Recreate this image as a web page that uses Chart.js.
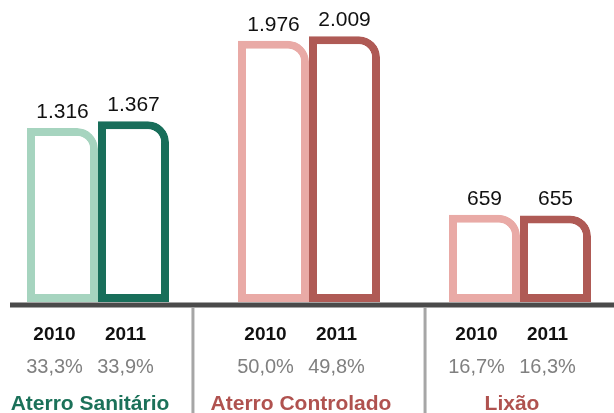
<!DOCTYPE html>
<html>
<head>
<meta charset="utf-8">
<script src="https://cdn.jsdelivr.net/npm/chart.js@4/dist/chart.umd.min.js"></script>
<style>
  html, body { margin: 0; padding: 0; background: #fff; }
  #wrap { width: 614px; height: 413px; }
</style>
</head>
<body>
<div id="wrap"><canvas id="chart" width="614" height="413"></canvas></div>
<script>
const categories = ['Aterro Sanitário', 'Aterro Controlado', 'Lixão'];
const years = ['2010', '2011'];
const values2010 = [1316, 1976, 659];
const values2011 = [1367, 2009, 655];
const share2010 = ['33,3%', '50,0%', '16,7%'];
const share2011 = ['33,9%', '49,8%', '16,3%'];

const lightColors = ['#a6d4bf', '#e9aaa6', '#e9aaa6'];
const darkColors = ['#186e5a', '#af5a55', '#af5a55'];
const nameColors = ['#1b7159', '#b0524f', '#b0524f'];

const FONT = '"Liberation Sans", Arial, sans-serif';

function formatNum(n) {
    // separador de milhar com ponto
    return String(n).replace(/\B(?=(\d{3})+(?!\d))/g, '.');
}

const labelsPlugin = {
    id: 'labels',
    afterDatasetsDraw(chart) {
        const ctx = chart.ctx;
        const area = chart.chartArea;
        const x = chart.scales.x;
        ctx.save();

        // linha base
        ctx.fillStyle = '#4a4a4a';
        ctx.fillRect(10, area.bottom + 0.5, chart.width - 10, 5);

        // separadores
        ctx.fillStyle = '#a6a6a6';
        [0.45, 1.55].forEach(v => {
            const px = x.getPixelForValue(v);
            ctx.fillRect(px - 1.5, area.bottom + 6, 3, chart.height - area.bottom);
        });

        // valores em cima das barras
        ctx.fillStyle = '#111';
        ctx.font = '21px ' + FONT;
        ctx.textAlign = 'center';
        ctx.textBaseline = 'alphabetic';
        chart.data.datasets.forEach((ds, di) => {
            chart.getDatasetMeta(di).data.forEach((bar, i) => {
                ctx.fillText(formatNum(ds.data[i]), bar.x, bar.y - 10);
            });
        });

        // rótulos de baixo
        const shares = [share2010, share2011];
        categories.forEach((cat, i) => {
            for (let di = 0; di < 2; di++) {
                const bar = chart.getDatasetMeta(di).data[i];
                const bx = bar.x - 8;
                ctx.fillStyle = '#111';
                ctx.font = 'bold 19px ' + FONT;
                ctx.fillText(years[di], bx, 340);
                ctx.fillStyle = '#808080';
                ctx.font = '20px ' + FONT;
                ctx.fillText(shares[di][i], bx, 373);
            }
            ctx.fillStyle = nameColors[i];
            ctx.font = 'bold 21px ' + FONT;
            ctx.fillText(cat, x.getPixelForValue(i) - 8, 410);
        });

        ctx.restore();
    }
};

new Chart(document.getElementById('chart'), {
    type: 'bar',
    data: {
        labels: categories,
        datasets: [
            {
                label: years[0],
                data: values2010,
                backgroundColor: '#ffffff',
                borderColor: lightColors,
                borderWidth: 8,
                borderSkipped: false,
                borderRadius: { topLeft: 0, topRight: 21, bottomLeft: 0, bottomRight: 0 },
                clip: false
            },
            {
                label: years[1],
                data: values2011,
                backgroundColor: '#ffffff',
                borderColor: darkColors,
                borderWidth: 8,
                borderSkipped: false,
                borderRadius: { topLeft: 0, topRight: 21, bottomLeft: 0, bottomRight: 0 },
                clip: false
            }
        ]
    },
    options: {
        responsive: false,
        animation: false,
        layout: { padding: { left: 98, right: 94, top: 0, bottom: 111 } },
        datasets: { bar: { categoryPercentage: 0.673, barPercentage: 1 } },
        plugins: {
            legend: { display: false },
            tooltip: { enabled: false }
        },
        scales: {
            x: { display: false, offset: false, grid: { display: false } },
            y: { display: false, min: 0, max: 2284 }
        }
    },
    plugins: [labelsPlugin]
});
</script>
</body>
</html>
